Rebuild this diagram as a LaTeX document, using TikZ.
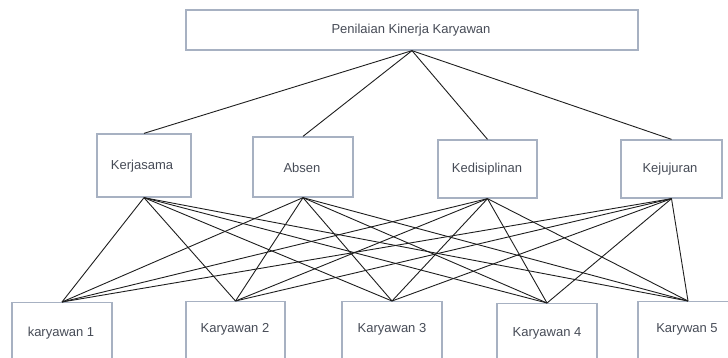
\documentclass[tikz,border=0pt]{standalone}
\usepackage{fontspec}
\setmainfont{Liberation Sans}
\usetikzlibrary{calc}
\definecolor{boxline}{HTML}{A7B1C2}
\definecolor{labeltext}{HTML}{474C57}
\definecolor{wire}{HTML}{1E1E1E}
\begin{document}
\begin{tikzpicture}[x=1pt,y=-1pt,
  box/.style={draw=boxline, line width=1.3pt, fill=white, inner sep=0pt,
    text=labeltext, font=\fontsize{13}{15}\selectfont},
  lbl/.style={text=labeltext, font=\fontsize{13}{15}\selectfont, inner sep=0pt},
  link/.style={draw=wire, line width=0.9pt}]
\useasboundingbox (0,0) rectangle (728,357);
\clip (0,0) rectangle (728,357);

% goal
\node[box, minimum width=452pt, minimum height=40pt] (goal) at (412,30) {};
\node[lbl] (goaltxt) at (411,30.5) {Penilaian Kinerja Karyawan};

% criteria
\node[box, minimum width=94pt, minimum height=63pt] (c1) at (144,165.5) {};
\node[box, minimum width=100pt, minimum height=60pt] (c2) at (303,167) {};
\node[box, minimum width=99pt, minimum height=58pt] (c3) at (487.5,169) {};
\node[box, minimum width=101pt, minimum height=58pt] (c4) at (671.5,169) {};
\node[lbl] (c1txt) at (142,166) {Kerjasama};
\node[lbl] (c2txt) at (302,168) {Absen};
\node[lbl] (c3txt) at (487,169) {Kedisiplinan};
\node[lbl] (c4txt) at (670,169) {Kejujuran};

% alternatives (boxes run past the lower edge)
\node[box, anchor=north, minimum width=100pt, minimum height=80pt] (a1) at (62,302) {};
\node[box, anchor=north, minimum width=99pt, minimum height=80pt] (a2) at (235.5,301) {};
\node[box, anchor=north, minimum width=100pt, minimum height=80pt] (a3) at (392,301) {};
\node[box, anchor=north, minimum width=100pt, minimum height=80pt] (a4) at (547,303) {};
\node[box, anchor=north, minimum width=100pt, minimum height=80pt] (a5) at (688,301) {};
\node[lbl] (a1txt) at (61,333) {karyawan 1};
\node[lbl] (a2txt) at (235,329) {Karyawan 2};
\node[lbl] (a3txt) at (392,329) {Karyawan 3};
\node[lbl] (a4txt) at (547,333) {Karyawan 4};
\node[lbl] (a5txt) at (687,329) {Karywan 5};

% goal to criteria
\foreach \c in {c1,c2,c3,c4}
  \draw[link] (goal.south) -- (\c.north);

% criteria to alternatives
\foreach \c in {c1,c2,c3,c4}
  \foreach \a in {a1,a2,a3,a4,a5}
    \draw[link] (\c.south) -- (\a.north);
\end{tikzpicture}
\end{document}
